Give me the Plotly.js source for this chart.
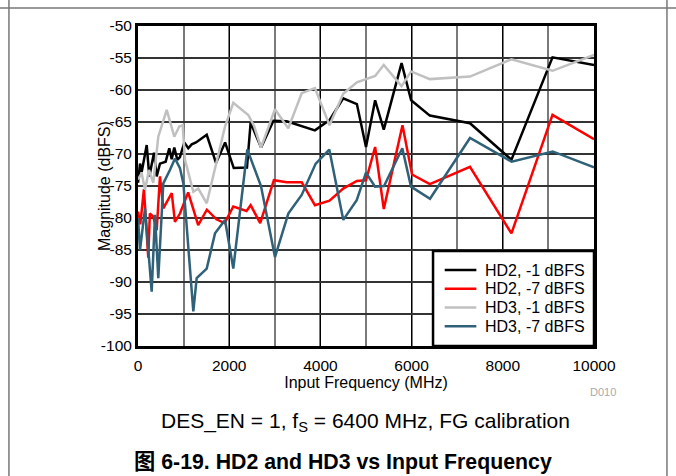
<!DOCTYPE html>
<html>
<head>
<meta charset="utf-8">
<script src="https://cdn.plot.ly/plotly-3.0.1.min.js"></script>
<style>
  html, body { margin: 0; padding: 0; background: #fff; }
  #chart { width: 676px; height: 476px; }
</style>
</head>
<body>
<div id="chart"></div>
<script>
// HD2 at -1 dBFS input
const hd2m1Freq = [0, 44, 81, 191, 248, 351, 410, 482, 607, 686, 739, 796, 862, 920, 1015, 1103, 1178, 1272, 1507, 1710, 1910, 2100, 2390, 2470, 2700, 2970, 3260, 3550, 3880, 4200, 4500, 4800, 5000, 5200, 5390, 5780, 5990, 6400, 7280, 8190, 9090, 10000];
const hd2m1Mag = [-74.5, -71.5, -72.8, -68.6, -73.5, -69.8, -73.5, -71.5, -71.2, -69.1, -70.8, -69.0, -70.9, -70.5, -68.2, -69.1, -68.5, -68.2, -67.0, -71.4, -68.2, -72.2, -72.1, -65.1, -69.0, -64.8, -64.9, -65.5, -66.3, -64.7, -61.3, -62.2, -68.9, -61.6, -66.2, -55.8, -61.6, -64.0, -65.2, -70.9, -54.9, -56.1];

// HD2 at -7 dBFS input
const hd2m7Freq = [0, 50, 130, 225, 260, 335, 410, 482, 555, 740, 810, 920, 1100, 1320, 1510, 1720, 1900, 2090, 2380, 2470, 2680, 2980, 3260, 3590, 3880, 4200, 4500, 4800, 5000, 5200, 5390, 5800, 6010, 6400, 7280, 8190, 9090, 10000];
const hd2m7Mag = [-79.0, -81.0, -75.5, -86.2, -79.3, -79.8, -81.9, -73.5, -78.5, -76.1, -80.6, -79.3, -76.0, -81.1, -78.7, -80.2, -80.8, -78.2, -78.9, -78.0, -80.8, -74.1, -74.4, -74.4, -78.0, -77.3, -75.4, -74.2, -74.1, -68.9, -78.6, -65.5, -73.2, -74.7, -72.0, -82.4, -63.9, -67.7];

// HD3 at -1 dBFS input
const hd3m1Freq = [0, 81, 154, 240, 335, 445, 630, 796, 905, 980, 1030, 1213, 1322, 1507, 1908, 2090, 2419, 2544, 2697, 3004, 3296, 3590, 3880, 4200, 4500, 4800, 5200, 5390, 5780, 5990, 6400, 7280, 8190, 9090, 10000];
const hd3m1Mag = [-74.0, -73.0, -75.6, -72.5, -74.5, -67.3, -63.1, -67.3, -65.7, -65.5, -70.9, -75.9, -75.4, -77.7, -65.7, -62.0, -63.9, -65.6, -69.0, -63.0, -66.0, -60.5, -59.7, -65.5, -60.6, -58.8, -57.8, -56.1, -59.4, -57.1, -58.3, -57.9, -55.2, -57.0, -54.5];

// HD3 at -7 dBFS input
const hd3m7Freq = [0, 44, 154, 300, 373, 445, 555, 640, 700, 811, 920, 995, 1213, 1287, 1507, 1689, 1908, 2090, 2397, 2697, 3004, 3296, 3590, 3897, 4195, 4502, 4796, 5000, 5198, 5396, 5796, 5987, 6404, 7281, 8195, 9094, 10000];
const hd3m7Mag = [-80.0, -85.0, -78.5, -91.5, -79.5, -89.4, -74.6, -73.5, -72.5, -70.7, -72.2, -74.6, -94.6, -89.4, -87.9, -82.4, -80.3, -87.9, -69.3, -75.0, -86.1, -79.3, -76.4, -71.5, -69.3, -80.3, -77.2, -72.9, -75.1, -75.0, -69.1, -75.1, -77.0, -67.5, -71.2, -69.6, -72.1];

const seriesNames = ['HD2, -1 dBFS', 'HD2, -7 dBFS', 'HD3, -1 dBFS', 'HD3, -7 dBFS'];
const seriesColors = ['#000000', '#ff0000', '#c0c0c0', '#2f6179'];

const yTicks = [-100, -95, -90, -85, -80, -75, -70, -65, -60, -55, -50];
const xTicks = [0, 2000, 4000, 6000, 8000, 10000];

const xTitle = 'Input Frequency (MHz)';
const yTitle = 'Magnitude (dBFS)';
const caption = 'DES_EN = 1, f<sub>S</sub> = 6400 MHz, FG calibration';
const figureTitle = '<b>图 6-19. HD2 and HD3 vs Input Frequency</b>';
const figureId = 'D010';

const xs = [hd2m1Freq, hd2m7Freq, hd3m1Freq, hd3m7Freq];
const ys = [hd2m1Mag, hd2m7Mag, hd3m1Mag, hd3m7Mag];

const traces = seriesNames.map((name, i) => ({
  type: 'scatter',
  mode: 'lines',
  name: name,
  x: xs[i],
  y: ys[i],
  line: { color: seriesColors[i], width: 2.5 },
  showlegend: false
}));

const font = 'Liberation Sans, Arial, sans-serif';

// Compact boxed legend in the lower-right corner of the plot (paper coordinates)
const legendBox = { x0: 0.647, x1: 1.0, y0: 0.0, y1: 0.297 };
const legendRowTop = 0.2375;
const legendRowStep = 0.0585;
const legendShapes = [
  { type: 'rect', xref: 'paper', yref: 'paper', x0: legendBox.x0, x1: legendBox.x1, y0: legendBox.y0, y1: legendBox.y1,
    fillcolor: '#ffffff', line: { color: '#000', width: 2.5 }, layer: 'above' }
];
const legendAnnotations = [];
seriesNames.forEach((name, i) => {
  const yy = legendRowTop - i * legendRowStep;
  legendShapes.push({ type: 'line', xref: 'paper', yref: 'paper', x0: 0.6726, x1: 0.742, y0: yy, y1: yy,
    line: { color: seriesColors[i], width: 2.5 }, layer: 'above' });
  legendAnnotations.push({ xref: 'paper', yref: 'paper', x: 0.7559, y: yy, xanchor: 'left', yanchor: 'middle',
    text: name, showarrow: false, font: { family: font, size: 16, color: '#000' } });
});

const layout = {
  width: 676,
  height: 476,
  margin: { l: 138, r: 82, t: 26, b: 130 },
  paper_bgcolor: '#ffffff',
  plot_bgcolor: '#ffffff',
  font: { family: font, size: 15, color: '#000' },
  showlegend: false,
  xaxis: {
    range: [0, 10000],
    tickmode: 'array', tickvals: xTicks, ticktext: xTicks.map(String),
    showgrid: true, gridcolor: '#000', gridwidth: 1.3,
    minor: { dtick: 1000, showgrid: true, gridcolor: '#7a7a7a', gridwidth: 2 },
    showline: true, linecolor: '#000', linewidth: 3, mirror: true,
    zeroline: false, ticks: '',
    ticklabelstandoff: 3,
    tickfont: { family: font, size: 15.5 },
    title: { text: xTitle, font: { family: font, size: 16 }, standoff: 2 }
  },
  yaxis: {
    range: [-100, -50],
    tickmode: 'array', tickvals: yTicks, ticktext: yTicks.map(String),
    showgrid: true, gridcolor: '#333', gridwidth: 1.5,
    showline: true, linecolor: '#000', linewidth: 3, mirror: true,
    zeroline: false, ticks: '',
    tickfont: { family: font, size: 15.5 }
  },
  annotations: [
    { xref: 'paper', yref: 'paper', x: -0.0746, y: 0.5, xanchor: 'center', yanchor: 'middle',
      textangle: -90, text: yTitle, showarrow: false, font: { family: font, size: 16, color: '#000' } },
    { xref: 'paper', yref: 'paper', x: 0.498, y: -0.2375, xanchor: 'center', yanchor: 'middle',
      text: caption, showarrow: false, font: { family: font, size: 21, color: '#000' } },
    { xref: 'paper', yref: 'paper', x: 0.4496, y: -0.3625, xanchor: 'center', yanchor: 'middle',
      text: figureTitle, showarrow: false, font: { family: 'Liberation Sans, Noto Sans CJK SC, Arial, sans-serif', size: 21.3, color: '#000' } },
    { xref: 'paper', yref: 'paper', x: 1.053, y: -0.144, xanchor: 'right', yanchor: 'middle',
      text: figureId, showarrow: false, font: { family: font, size: 11, color: '#aaaaaa' } }
  ].concat(legendAnnotations),
  shapes: [
    // page frame lines
    { type: 'line', xref: 'paper', yref: 'paper', x0: -0.31, x1: 1.2, y0: 1.056, y1: 1.056, line: { color: '#777', width: 1.5 } },
    { type: 'line', xref: 'paper', yref: 'paper', x0: -0.283, x1: -0.283, y0: -0.42, y1: 1.09, line: { color: '#777', width: 1.5 } },
    { type: 'line', xref: 'paper', yref: 'paper', x0: 1.160, x1: 1.160, y0: -0.42, y1: 1.09, line: { color: '#777', width: 1.5 } }
  ].concat(legendShapes)
};

Plotly.newPlot('chart', traces, layout, { staticPlot: true, displayModeBar: false });
</script>
</body>
</html>
